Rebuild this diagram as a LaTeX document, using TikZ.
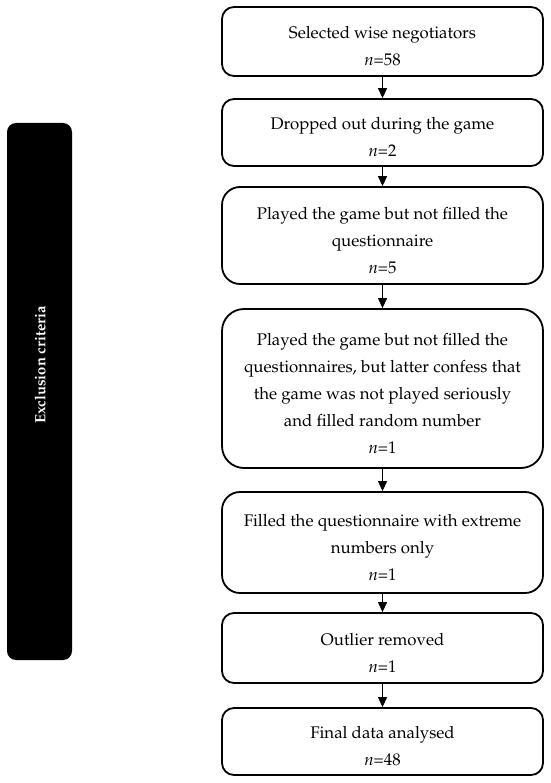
\documentclass[tikz,border=0pt]{standalone}
\usepackage[T1]{fontenc}
\usepackage{mathpazo}
\usetikzlibrary{arrows.meta}
\tikzset{
  flowbox/.style={draw=black, line width=1.8pt, rounded corners=12pt, fill=white,
    minimum width=321pt, inner sep=0pt},
  bigbox/.style={flowbox, rounded corners=18pt},
  boxtext/.style={align=center, font=\fontsize{16.8}{27}\selectfont, inner sep=0pt},
  flowarrow/.style={line width=1.1pt, -{Triangle[width=9pt,length=10pt]}},
  sidebar/.style={fill=black, rounded corners=9pt}
}
\begin{document}
\begin{tikzpicture}[x=1pt,y=-1pt]
\useasboundingbox (0,0) rectangle (550,783);
% side bar
\fill[sidebar] (7,123) rectangle (72,660);
\node[rotate=90, text=white, font=\fontsize{14.8}{18}\selectfont\bfseries] (excl) at (40,365) {Exclusion criteria};
% boxes
\node[flowbox, minimum height=69pt] (b1) at (382.5,41.5) {};
\node[flowbox, minimum height=67pt] (b2) at (382.5,132.5) {};
\node[bigbox, minimum height=97pt] (b3) at (382.5,235.5) {};
\node[bigbox, minimum height=159pt, rounded corners=22pt] (b4) at (382.5,388.5) {};
\node[bigbox, minimum height=101pt] (b5) at (382.5,542.5) {};
\node[flowbox, minimum height=70pt] (b6) at (382.5,648) {};
\node[flowbox, minimum height=67pt] (b7) at (382.5,741.5) {};
% texts
\node[boxtext] (t1) at ([yshift=-5pt]b1.center) {Selected wise negotiators\\\textit{n}=58};
\node[boxtext] (t2) at ([yshift=-5pt]b2.center) {Dropped out during the game\\\textit{n}=2};
\node[boxtext] (t3) at ([yshift=-5pt]b3.center) {Played the game but not filled the\\questionnaire\\\textit{n}=5};
\node[boxtext] (t4) at ([yshift=-5pt]b4.center) {Played the game but not filled the\\questionnaires, but latter confess that\\the game was not played seriously\\and filled random number\\\textit{n}=1};
\node[boxtext] (t5) at ([yshift=-5pt]b5.center) {Filled the questionnaire with extreme\\numbers only\\\textit{n}=1};
\node[boxtext] (t6) at ([yshift=-5pt]b6.center) {Outlier removed\\\textit{n}=1};
\node[boxtext] (t7) at ([yshift=-5pt]b7.center) {Final data analysed\\\textit{n}=48};
% arrows
\draw[flowarrow] (b1) -- (b2);
\draw[flowarrow] (b2) -- (b3);
\draw[flowarrow] (b3) -- (b4);
\draw[flowarrow] (b4) -- (b5);
\draw[flowarrow] (b5) -- (b6);
\draw[flowarrow] (b6) -- (b7);
\end{tikzpicture}
\end{document}
